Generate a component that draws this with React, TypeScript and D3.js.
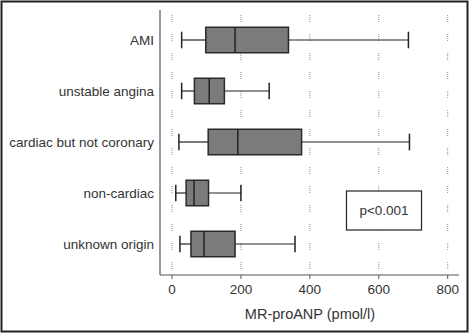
import React from "react";
import * as d3 from "d3";

const categories = ["AMI", "unstable angina", "cardiac but not coronary", "non-cardiac", "unknown origin"];
const whiskerLow = [28, 28, 20, 11, 23];
const q1 = [98, 65, 105, 41, 55];
const median = [183, 108, 191, 64, 93];
const q3 = [338, 152, 376, 106, 183];
const whiskerHigh = [686, 282, 689, 200, 357];
const xTicks = [0, 200, 400, 600, 800];
const annotation = "p<0.001";
const xTitle = "MR-proANP (pmol/l)";

export default function App() {
  const W = 470, H = 333;
  const x = d3.scaleLinear().domain([0, 800]).range([172, 447.7]);
  const y = d3.scaleBand<string>().domain(categories).range([14.5, 269.5]).paddingInner(0.5).paddingOuter(0.25);
  const font = "'Liberation Sans', Arial, sans-serif";
  const bw = y.bandwidth();
  const capH = bw * 0.65;
  return (
    <svg width={W} height={H} style={{ position: "absolute", left: 0, top: 0 }} fontFamily={font}>
      <rect x={0} y={0} width={W} height={H} fill="#fff" />
      <rect x={1.5} y={1.5} width={466} height={330} fill="none" stroke="#222" strokeWidth={2} />
      {xTicks.map((t) => (
        <line key={"g" + t} x1={x(t)} x2={x(t)} y1={15} y2={275} stroke="#8a8a8a" strokeWidth={1} strokeDasharray="1 1 1 1 1 1 1 12" />
      ))}
      <line x1={160} x2={160} y1={10} y2={275} stroke="#555" strokeWidth={1.2} />
      <line x1={160} x2={459} y1={275} y2={275} stroke="#555" strokeWidth={1.2} />
      {xTicks.map((t) => (
        <g key={"t" + t}>
          <line x1={x(t)} x2={x(t)} y1={275} y2={279} stroke="#555" />
          <text x={x(t)} y={294} textAnchor="middle" fontSize={13.5} fill="#333">{t}</text>
        </g>
      ))}
      <text x={310} y={319} textAnchor="middle" fontSize={14.5} fill="#333">{xTitle}</text>
      {categories.map((c, i) => {
        const top = y(c) as number;
        const cy = top + bw / 2;
        return (
          <g key={c}>
            <text x={154} y={cy + 4.5} textAnchor="end" fontSize={13.5} fill="#333">{c}</text>
            <line x1={x(whiskerLow[i])} x2={x(q1[i])} y1={cy} y2={cy} stroke="#222" strokeWidth={1.2} />
            <line x1={x(q3[i])} x2={x(whiskerHigh[i])} y1={cy} y2={cy} stroke="#222" strokeWidth={1.2} />
            <line x1={x(whiskerLow[i])} x2={x(whiskerLow[i])} y1={cy - capH / 2} y2={cy + capH / 2} stroke="#222" strokeWidth={1.5} />
            <line x1={x(whiskerHigh[i])} x2={x(whiskerHigh[i])} y1={cy - capH / 2} y2={cy + capH / 2} stroke="#222" strokeWidth={1.5} />
            <rect x={x(q1[i])} y={top} width={x(q3[i]) - x(q1[i])} height={bw} fill="#7b7b7b" stroke="#2a2a2a" strokeWidth={1.5} />
            <line x1={x(median[i])} x2={x(median[i])} y1={top} y2={top + bw} stroke="#222" strokeWidth={1.5} />
          </g>
        );
      })}
      <rect x={346.5} y={191} width={75} height={39} fill="#fff" stroke="#222" strokeWidth={1.2} />
      <text x={384} y={215} textAnchor="middle" fontSize={13.5} fill="#333">{annotation}</text>
    </svg>
  );
}
